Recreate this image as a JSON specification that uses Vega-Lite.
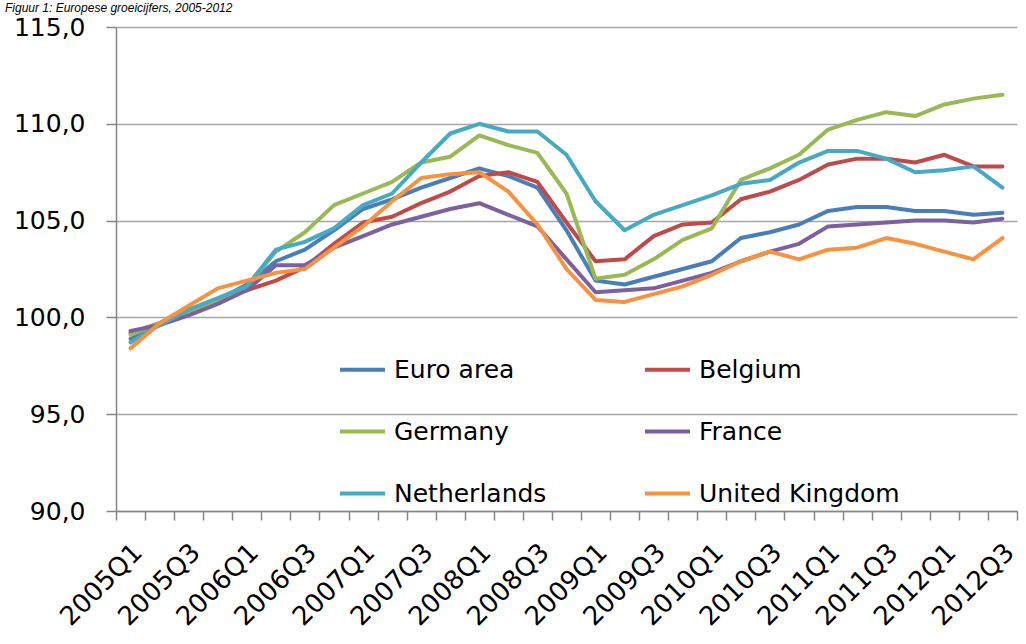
{
  "$schema": "https://vega.github.io/schema/vega-lite/v6.json",
  "width": 901,
  "height": 484,
  "autosize": "none",
  "padding": {"left": 116, "top": 27, "right": 9, "bottom": 133},
  "background": "white",
  "title": {
    "text": "Figuur 1: Europese groeicijfers, 2005-2012",
    "anchor": "start",
    "frame": "group",
    "dx": -111,
    "dy": 13,
    "offset": 4,
    "baseline": "alphabetic",
    "font": "Liberation Sans",
    "fontSize": 12,
    "fontStyle": "italic",
    "fontWeight": "normal",
    "color": "#000000"
  },
  "data": {
    "values": [
      {"q": "2005Q1", "Euro area": 98.9, "Belgium": 99.2, "Germany": 99.1, "France": 99.3, "Netherlands": 98.7, "United Kingdom": 98.4},
      {"q": "2005Q2", "Euro area": 99.6, "Belgium": 99.7, "Germany": 99.7, "France": 99.6, "Netherlands": 99.6, "United Kingdom": 99.7},
      {"q": "2005Q3", "Euro area": 100.4, "Belgium": 100.2, "Germany": 100.3, "France": 100.1, "Netherlands": 100.4, "United Kingdom": 100.6},
      {"q": "2005Q4", "Euro area": 100.9, "Belgium": 100.9, "Germany": 100.9, "France": 100.7, "Netherlands": 101.0, "United Kingdom": 101.5},
      {"q": "2006Q1", "Euro area": 101.7, "Belgium": 101.4, "Germany": 101.6, "France": 101.4, "Netherlands": 101.6, "United Kingdom": 101.9},
      {"q": "2006Q2", "Euro area": 102.9, "Belgium": 101.9, "Germany": 103.4, "France": 102.7, "Netherlands": 103.5, "United Kingdom": 102.3},
      {"q": "2006Q3", "Euro area": 103.5, "Belgium": 102.6, "Germany": 104.4, "France": 102.7, "Netherlands": 103.9, "United Kingdom": 102.5},
      {"q": "2006Q4", "Euro area": 104.5, "Belgium": 103.8, "Germany": 105.8, "France": 103.6, "Netherlands": 104.6, "United Kingdom": 103.6},
      {"q": "2007Q1", "Euro area": 105.6, "Belgium": 104.9, "Germany": 106.4, "France": 104.2, "Netherlands": 105.8, "United Kingdom": 104.7},
      {"q": "2007Q2", "Euro area": 106.1, "Belgium": 105.2, "Germany": 107.0, "France": 104.8, "Netherlands": 106.4, "United Kingdom": 106.0},
      {"q": "2007Q3", "Euro area": 106.7, "Belgium": 105.9, "Germany": 108.0, "France": 105.2, "Netherlands": 108.0, "United Kingdom": 107.2},
      {"q": "2007Q4", "Euro area": 107.2, "Belgium": 106.5, "Germany": 108.3, "France": 105.6, "Netherlands": 109.5, "United Kingdom": 107.4},
      {"q": "2008Q1", "Euro area": 107.7, "Belgium": 107.3, "Germany": 109.4, "France": 105.9, "Netherlands": 110.0, "United Kingdom": 107.5},
      {"q": "2008Q2", "Euro area": 107.3, "Belgium": 107.5, "Germany": 108.9, "France": 105.3, "Netherlands": 109.6, "United Kingdom": 106.5},
      {"q": "2008Q3", "Euro area": 106.7, "Belgium": 107.0, "Germany": 108.5, "France": 104.7, "Netherlands": 109.6, "United Kingdom": 104.8},
      {"q": "2008Q4", "Euro area": 104.5, "Belgium": 104.9, "Germany": 106.4, "France": 103.0, "Netherlands": 108.4, "United Kingdom": 102.5},
      {"q": "2009Q1", "Euro area": 101.9, "Belgium": 102.9, "Germany": 102.0, "France": 101.3, "Netherlands": 106.0, "United Kingdom": 100.9},
      {"q": "2009Q2", "Euro area": 101.7, "Belgium": 103.0, "Germany": 102.2, "France": 101.4, "Netherlands": 104.5, "United Kingdom": 100.8},
      {"q": "2009Q3", "Euro area": 102.1, "Belgium": 104.2, "Germany": 103.0, "France": 101.5, "Netherlands": 105.3, "United Kingdom": 101.2},
      {"q": "2009Q4", "Euro area": 102.5, "Belgium": 104.8, "Germany": 104.0, "France": 101.9, "Netherlands": 105.8, "United Kingdom": 101.6},
      {"q": "2010Q1", "Euro area": 102.9, "Belgium": 104.9, "Germany": 104.6, "France": 102.3, "Netherlands": 106.3, "United Kingdom": 102.2},
      {"q": "2010Q2", "Euro area": 104.1, "Belgium": 106.1, "Germany": 107.1, "France": 102.9, "Netherlands": 106.9, "United Kingdom": 102.9},
      {"q": "2010Q3", "Euro area": 104.4, "Belgium": 106.5, "Germany": 107.7, "France": 103.4, "Netherlands": 107.1, "United Kingdom": 103.4},
      {"q": "2010Q4", "Euro area": 104.8, "Belgium": 107.1, "Germany": 108.4, "France": 103.8, "Netherlands": 108.0, "United Kingdom": 103.0},
      {"q": "2011Q1", "Euro area": 105.5, "Belgium": 107.9, "Germany": 109.7, "France": 104.7, "Netherlands": 108.6, "United Kingdom": 103.5},
      {"q": "2011Q2", "Euro area": 105.7, "Belgium": 108.2, "Germany": 110.2, "France": 104.8, "Netherlands": 108.6, "United Kingdom": 103.6},
      {"q": "2011Q3", "Euro area": 105.7, "Belgium": 108.2, "Germany": 110.6, "France": 104.9, "Netherlands": 108.2, "United Kingdom": 104.1},
      {"q": "2011Q4", "Euro area": 105.5, "Belgium": 108.0, "Germany": 110.4, "France": 105.0, "Netherlands": 107.5, "United Kingdom": 103.8},
      {"q": "2012Q1", "Euro area": 105.5, "Belgium": 108.4, "Germany": 111.0, "France": 105.0, "Netherlands": 107.6, "United Kingdom": 103.4},
      {"q": "2012Q2", "Euro area": 105.3, "Belgium": 107.8, "Germany": 111.3, "France": 104.9, "Netherlands": 107.8, "United Kingdom": 103.0},
      {"q": "2012Q3", "Euro area": 105.4, "Belgium": 107.8, "Germany": 111.5, "France": 105.1, "Netherlands": 106.7, "United Kingdom": 104.1}
    ]
  },
  "transform": [
    {"fold": ["Euro area", "Belgium", "Germany", "France", "Netherlands", "United Kingdom"], "as": ["c", "v"]}
  ],
  "mark": {"type": "line", "strokeCap": "round", "strokeJoin": "round"},
  "encoding": {
    "x": {
      "field": "q",
      "type": "ordinal",
      "bandPosition": 0.5,
      "scale": {"type": "band", "paddingInner": 0, "paddingOuter": 0},
      "axis": {
        "title": null,
        "tickBand": "extent",
        "domainColor": "#868686",
        "domainWidth": 1.5,
        "tickColor": "#868686",
        "tickWidth": 1.5,
        "tickSize": 9,
        "labelAngle": -45,
        "labelAlign": "right",
        "labelBaseline": "middle",
        "labelPadding": 28,
        "labelOffset": 7,
        "labelFont": "DejaVu Sans",
        "labelFontSize": 26,
        "labelColor": "#000000",
        "labelOverlap": false,
        "labelBound": false,
        "labelExpr": "(substring(datum.value,5,6) == '1' || substring(datum.value,5,6) == '3') ? datum.value : ''"
      }
    },
    "y": {
      "field": "v",
      "type": "quantitative",
      "scale": {"domain": [90, 115], "nice": false, "zero": false},
      "axis": {
        "title": null,
        "values": [90, 95, 100, 105, 110, 115],
        "grid": true,
        "gridColor": "#A6A6A6",
        "gridWidth": 1.5,
        "domainColor": "#868686",
        "domainWidth": 1.5,
        "tickColor": "#868686",
        "tickWidth": 1.5,
        "tickSize": 10,
        "labelPadding": 21,
        "labelFont": "DejaVu Sans",
        "labelFontSize": 25,
        "labelColor": "#000000",
        "labelExpr": "replace(format(datum.value, '.1f'), '.', ',')"
      }
    },
    "color": {
      "field": "c",
      "type": "nominal",
      "scale": {
        "domain": ["Euro area", "Germany", "Netherlands", "Belgium", "France", "United Kingdom"],
        "range": ["#4A7EBB", "#98B954", "#46AAC5", "#BE4B48", "#7D60A0", "#F69240"]
      },
      "legend": {
        "title": null,
        "orient": "none",
        "legendX": 222,
        "legendY": 318,
        "columns": 2,
        "columnPadding": 90,
        "rowPadding": 24,
        "symbolType": "stroke",
        "symbolSize": 2025,
        "labelFont": "DejaVu Sans",
        "labelFontSize": 25,
        "labelColor": "#000000",
        "labelOffset": 7,
        "labelLimit": 400
      }
    },
    "strokeWidth": {
      "field": "c",
      "type": "nominal",
      "scale": {
        "domain": ["Euro area", "Germany", "Netherlands", "Belgium", "France", "United Kingdom"],
        "range": [4, 4, 6.5, 4, 4, 4]
      },
      "legend": {
        "title": null,
        "orient": "none",
        "legendX": 222,
        "legendY": 318,
        "columns": 2,
        "columnPadding": 90,
        "rowPadding": 24,
        "symbolType": "stroke",
        "symbolSize": 2025,
        "labelFont": "DejaVu Sans",
        "labelFontSize": 25,
        "labelColor": "#000000",
        "labelOffset": 7,
        "labelLimit": 400
      }
    }
  },
  "config": {
    "view": {"stroke": null}
  }
}
